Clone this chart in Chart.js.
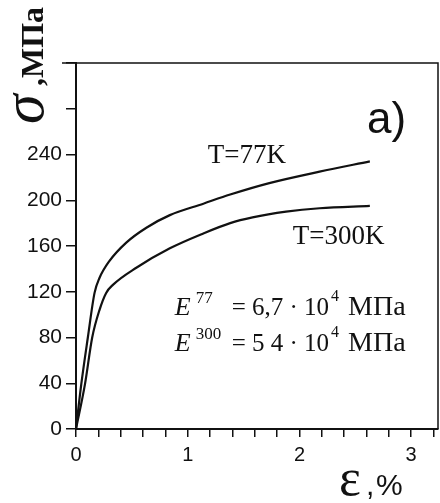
<!DOCTYPE html>
<html>
<head>
<meta charset="utf-8">
<script src="https://cdn.jsdelivr.net/npm/chart.js@4.4.0/dist/chart.umd.min.js"></script>
<style>
  html, body { margin: 0; padding: 0; background: #fff; }
</style>
</head>
<body>
<canvas id="c" width="440" height="503"></canvas>
<script>
// stress-strain curves (strain in %, stress in MPa)
const strain77  = [0, 0.047, 0.106, 0.166, 0.21, 0.30, 0.45, 0.63, 0.84, 1.14, 1.38, 1.73, 2.18, 2.63];
const stress77  = [0, 39, 80, 119, 132, 147, 163, 176, 187, 197, 205, 215, 225, 234];
const strain300 = [0, 0.08, 0.145, 0.21, 0.27, 0.33, 0.54, 0.84, 1.14, 1.38, 1.58, 1.88, 2.18, 2.63];
const stress300 = [0, 39, 80, 104, 119, 126, 141, 158, 171, 180, 185, 190, 193, 195];
const curveNames = ['T=77K', 'T=300K'];
const yTickLabels = [0, 40, 80, 120, 160, 200, 240];
const xTickLabels = [0, 1, 2, 3];

const ink = '#111';

function toPoints(xs, ys) {
  return xs.map((x, i) => ({ x: x, y: ys[i] }));
}

// E^T = ... MPa, drawn piece by piece
function drawModulus(ctx, px, py, sup, body) {
  ctx.font = 'italic 26px "Liberation Serif"';
  ctx.fillText('E', px, py);
  ctx.font = '17px "Liberation Serif"';
  ctx.fillText(sup, px + 21, py - 12);
  ctx.font = '25px "Liberation Serif"';
  ctx.fillText(body, px + 57, py);
  const end = px + 57 + ctx.measureText(body).width;
  ctx.font = '16px "Liberation Serif"';
  ctx.fillText('4', end + 2, py - 14);
  ctx.font = '28px "Liberation Serif"';
  ctx.fillText('МПа', end + 19, py);
}

const textPlugin = {
  id: 'texts',
  afterDraw(chart) {
    const ctx = chart.ctx;
    const xs = chart.scales.x, ys = chart.scales.y;
    const a = chart.chartArea;
    ctx.save();

    // frame top / right
    ctx.strokeStyle = ink;
    ctx.lineWidth = 1.5;
    ctx.beginPath();
    ctx.moveTo(a.left - 14, a.top);
    ctx.lineTo(a.right, a.top);
    ctx.lineTo(a.right, a.bottom);
    ctx.stroke();

    ctx.fillStyle = ink;
    ctx.textAlign = 'left';
    ctx.textBaseline = 'alphabetic';

    ctx.font = '44px "Liberation Sans"';
    ctx.fillText('a)', xs.getPixelForValue(2.605), ys.getPixelForValue(259));

    ctx.font = '27px "Liberation Serif"';
    ctx.fillText(curveNames[0], xs.getPixelForValue(1.18), ys.getPixelForValue(233));
    ctx.fillText(curveNames[1], xs.getPixelForValue(1.94), ys.getPixelForValue(162));

    drawModulus(ctx, xs.getPixelForValue(0.883), ys.getPixelForValue(100), '77', '= 6,7 · 10');
    drawModulus(ctx, xs.getPixelForValue(0.883), ys.getPixelForValue(68), '300', '= 5 4 · 10');

    // y title, rotated
    ctx.save();
    ctx.translate(43, 124);
    ctx.rotate(-Math.PI / 2);
    ctx.font = 'italic 60px "Liberation Serif"';
    ctx.fillText('σ', 0, 0);
    ctx.font = 'bold 32px "Liberation Serif"';
    ctx.fillText(',', 38, 0);
    ctx.fillText('МПа', 46, 0);
    ctx.restore();

    // x title
    ctx.font = '52px "Liberation Serif"';
    ctx.fillText('ε', 339, 495);
    ctx.font = '30px "Liberation Sans"';
    ctx.fillText(',', 366, 495);
    ctx.fillText('%', 376, 495);

    ctx.restore();
  }
};

new Chart(document.getElementById('c'), {
  type: 'line',
  data: {
    datasets: [
      { label: curveNames[0], data: toPoints(strain77, stress77) },
      { label: curveNames[1], data: toPoints(strain300, stress300) }
    ]
  },
  options: {
    responsive: false,
    animation: false,
    devicePixelRatio: 1,
    layout: { padding: { top: 63, right: 2, left: 0, bottom: 0 } },
    elements: {
      point: { radius: 0 },
      line: { borderColor: ink, borderWidth: 2.2, cubicInterpolationMode: 'monotone', fill: false }
    },
    plugins: {
      legend: { display: false },
      tooltip: { enabled: false }
    },
    scales: {
      x: {
        type: 'linear',
        min: 0,
        max: 3.24,
        afterFit: s => { s.height = 74; },
        ticks: {
          stepSize: 0.2,
          includeBounds: false,
          autoSkip: false,
          maxRotation: 0,
          padding: 6,
          color: ink,
          font: { family: 'Liberation Sans', size: 20 },
          callback: v => {
            const hit = xTickLabels.find(t => Math.abs(t - v) < 1e-6);
            return hit === undefined ? '' : String(hit);
          }
        },
        grid: { drawOnChartArea: false, drawTicks: true, tickLength: 8, color: ink, lineWidth: 1.5 },
        border: { color: ink, width: 2 }
      },
      y: {
        min: 0,
        max: 320,
        afterFit: s => { s.width = 76; },
        ticks: {
          stepSize: 40,
          autoSkip: false,
          padding: 4,
          color: ink,
          font: { family: 'Liberation Sans', size: 21 },
          callback: v => yTickLabels.includes(v) ? String(v) : ''
        },
        grid: { drawOnChartArea: false, drawTicks: true, tickLength: 10, color: ink, lineWidth: 1.5 },
        border: { color: ink, width: 2 }
      }
    }
  },
  plugins: [textPlugin]
});
</script>
</body>
</html>
